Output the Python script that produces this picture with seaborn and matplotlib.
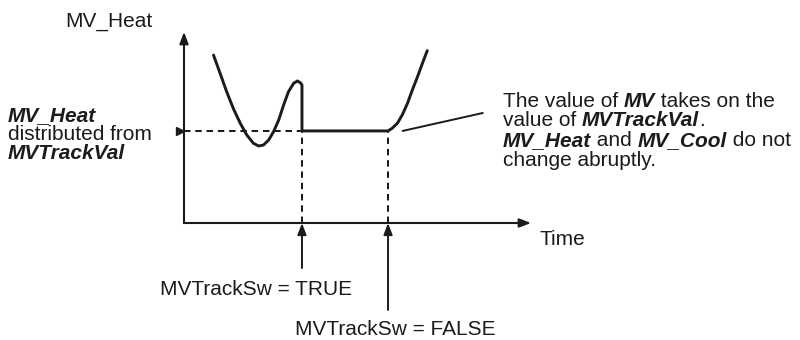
import matplotlib
matplotlib.use("Agg")
import matplotlib.pyplot as plt
from matplotlib.patches import ArrowStyle
from matplotlib.transforms import offset_copy
import pandas as pd
import seaborn as sns

# MV_Heat trace, time and output both in percent of the drawn axes
heat_time_before = [8.5, 10.4, 12.3, 14.2, 16.2, 18.1, 20.0, 21.5, 22.9, 24.4,
                    25.8, 27.3, 28.7, 30.1, 31.6, 32.7, 33.5, 34.0]
heat_value_before = [87.0, 77.6, 68.0, 59.4, 51.7, 45.6, 41.3, 39.9, 40.4, 43.0,
                     47.3, 53.4, 61.1, 68.0, 72.4, 73.6, 72.7, 71.5]
heat_time_after = [60.0, 61.5, 62.9, 64.4, 65.8, 67.3, 68.7, 70.1]
heat_value_after = [49.1, 51.7, 56.0, 62.0, 68.9, 75.8, 82.7, 89.3]

track_val = 47.7        # MVTrackVal
track_sw_on = 34.0      # MVTrackSw goes TRUE
track_sw_off = 58.8     # MVTrackSw goes FALSE

# callout pointer for the note on the right
pointer_time = [63.0, 86.1]
pointer_value = [47.7, 57.0]

y_axis_label = "MV_Heat"
x_axis_label = "Time"
sw_true_label = "MVTrackSw = TRUE"
sw_false_label = "MVTrackSw = FALSE"

left_note = [
    [("MV_Heat", "bi")],
    [("distributed from", "n")],
    [("MVTrackVal", "bi")],
]
right_note = [
    [("The value of ", "n"), ("MV", "bi"), (" takes on the", "n")],
    [("value of ", "n"), ("MVTrackVal", "bi"), (".", "n")],
    [("MV_Heat", "bi"), (" and ", "n"), ("MV_Cool", "bi"), (" do not", "n")],
    [("change abruptly.", "n")],
]

sns.set_theme(style="white")
plt.rcParams["font.family"] = ["Liberation Sans", "DejaVu Sans"]

INK = "#1c1a1a"
FS = 15
W, H = 800, 340

fig = plt.figure(figsize=(W / 100, H / 100), dpi=100)
ax = fig.add_axes([184 / W, (H - 223) / H, 347 / W, 191 / H])
ax.set_xlim(0, 100)
ax.set_ylim(0, 100 * 191 / 193)
ax.axis("off")

# the trace: free-running, held at MVTrackVal while tracking, then released
trace = pd.DataFrame({
    "time": heat_time_before + [track_sw_on, track_sw_off] + heat_time_after,
    "value": heat_value_before + [track_val, track_val] + heat_value_after,
})
sns.lineplot(data=trace, x="time", y="value", sort=False, estimator=None,
             color=INK, lw=2.1, ax=ax, clip_on=False)

# guides for MVTrackVal and the switching instants
dash = dict(color=INK, lw=1.45, ls=(0, (3.2, 2.4)), clip_on=False)
ax.plot([0, track_sw_on], [track_val, track_val], **dash)
ax.plot([track_sw_on, track_sw_on], [0, track_val], **dash)
ax.plot([track_sw_off, track_sw_off], [0, track_val], **dash)
ax.plot([0], [track_val], marker=">", ms=6, color=INK, ls="none", clip_on=False,
        transform=offset_copy(ax.transData, fig=fig, x=-4, y=0, units="dots"))

# axes with arrowheads
head = ArrowStyle("-|>", head_length=0.34, head_width=0.13)
axis_arrow = dict(arrowstyle=head, mutation_scale=20, lw=1.5, color=INK,
                  shrinkA=0, shrinkB=0, capstyle="projecting")
ax.annotate("", xy=(0, 1), xytext=(0, 0), xycoords="axes fraction",
            arrowprops=axis_arrow)
ax.annotate("", xy=(1, 0), xytext=(0, 0), xycoords="axes fraction",
            arrowprops=axis_arrow)

# switch markers below the time axis
sw_arrow = dict(arrowstyle=head, mutation_scale=20, lw=1.4, color=INK,
                shrinkA=0, shrinkB=0)
ax.annotate("", xy=(track_sw_on, 0), xytext=(0, -45), textcoords="offset pixels",
            arrowprops=sw_arrow)
ax.annotate("", xy=(track_sw_off, 0), xytext=(0, -87), textcoords="offset pixels",
            arrowprops=sw_arrow)

ax.plot(pointer_time, pointer_value, color=INK, lw=1.4, clip_on=False)


def px(x, y):
    return x / W, 1 - y / H


def styled(kind):
    if kind == "bi":
        return dict(fontweight="bold", fontstyle="italic")
    return dict(fontweight="normal", fontstyle="normal")


renderer = fig.canvas.get_renderer()


def note_block(x0, baselines, lines):
    """Lines of mixed regular / bold-italic runs sharing one baseline."""
    for y, pieces in zip(baselines, lines):
        x = x0
        for s, kind in pieces:
            t = fig.text(*px(x, y), s, fontsize=FS, color=INK,
                         va="baseline", ha="left", **styled(kind))
            x += t.get_window_extent(renderer).width


fig.text(*px(65, 27), y_axis_label, fontsize=FS, color=INK, va="baseline")
fig.text(*px(539, 245), x_axis_label, fontsize=FS, color=INK, va="baseline")
fig.text(*px(160, 295), sw_true_label, fontsize=FS, color=INK, va="baseline")
fig.text(*px(295, 335), sw_false_label, fontsize=FS, color=INK, va="baseline")

note_block(8, [121, 140, 159], left_note)
note_block(503, [107, 126.5, 146, 165.5], right_note)

fig.savefig("out.png", dpi=100, facecolor="white")
